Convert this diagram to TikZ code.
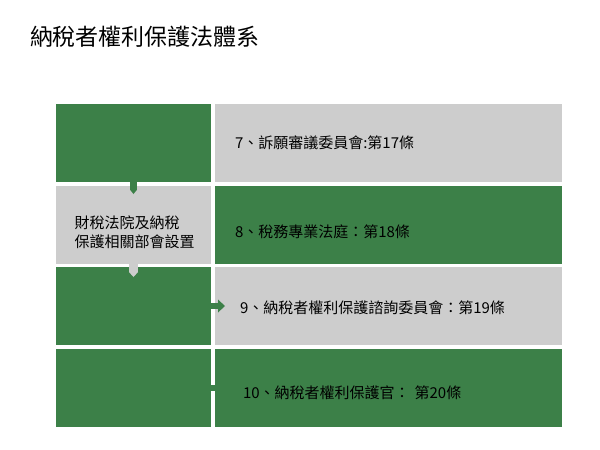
\documentclass[tikz,border=0pt]{standalone}
\usepackage{fontspec}
\setmainfont{Noto Sans CJK TC}
\usetikzlibrary{positioning,arrows.meta}
\definecolor{boxgreen}{RGB}{60,128,72}
\definecolor{boxgray}{RGB}{205,205,205}
\begin{document}
\begin{tikzpicture}[x=1pt, y=1pt, node distance=3.5pt and 4pt, every node/.style={rectangle, inner sep=0pt, outer sep=0pt, font=\fontsize{15pt}{19.5pt}\selectfont}]
	\tikzstyle{greenleft} = [fill=boxgreen, minimum width=155pt, minimum height=78pt]
	\tikzstyle{grayleft} = [fill=boxgray, minimum width=155pt, minimum height=78pt, align=left]
	\tikzstyle{greenright} = [fill=boxgreen, minimum width=347pt, minimum height=78pt, text width=307pt, align=left, text depth=2pt]
	\tikzstyle{grayright} = [fill=boxgray, minimum width=347pt, minimum height=78pt, text width=307pt, align=left, text depth=2pt]
	\tikzstyle{tabgreen} = [boxgreen, line width=6.5pt, -{Triangle[length=4pt, width=6.5pt, line width=0pt]}]
	\tikzstyle{tabgray} = [boxgray, line width=9pt, -{Triangle[length=5pt, width=9pt, line width=0pt]}]
	\tikzstyle{arrowgreen} = [boxgreen, line width=6pt, -{Triangle[length=7pt, width=13pt, line width=0pt]}]
	
	\useasboundingbox (0,0) rectangle (600,-450);
	\node[anchor=west, font=\fontsize{23pt}{27pt}\selectfont] (title) at (30,-37) {納稅者權利保護法體系};
	
	% left column
	\node[greenleft, anchor=north west] (lefttop) at (56,-104) {};
	\node[grayleft, text height=48pt, text depth=1.8pt] (setup) [below=of lefttop] {\hspace*{2pt}財稅法院及納稅\\\hspace*{2pt}保護相關部會設置};
	\node[greenleft] (leftmid) [below=of setup] {};
	\node[greenleft] (leftlow) [below=of leftmid] {};
	
	% right column
	\node[grayright, text height=13.4pt] (appeal) [right=of lefttop] {7、訴願審議委員會:第17條};
	\node[greenright, text height=28.4pt] (court) [right=of setup] {8、稅務專業法庭：第18條};
	\node[grayright, text height=17.4pt] (advisory) [right=of leftmid] {\hspace*{5pt}9、納稅者權利保護諮詢委員會：第19條};
	\node[greenright, text height=24.4pt] (protector) [right=of leftlow] {\hspace*{8pt}10、納稅者權利保護官： 第20條};
	
	\draw[tabgreen] (lefttop.south) -- ([yshift=-8.5pt]setup.north);
	\draw[tabgray] (setup.south) -- ([yshift=-10pt]leftmid.north);
	\draw[arrowgreen] (leftmid.east) -- ([xshift=10pt]advisory.west);
	\draw[boxgreen, line width=6pt] (leftlow.east) -- (protector.west);
\end{tikzpicture}
\end{document}
